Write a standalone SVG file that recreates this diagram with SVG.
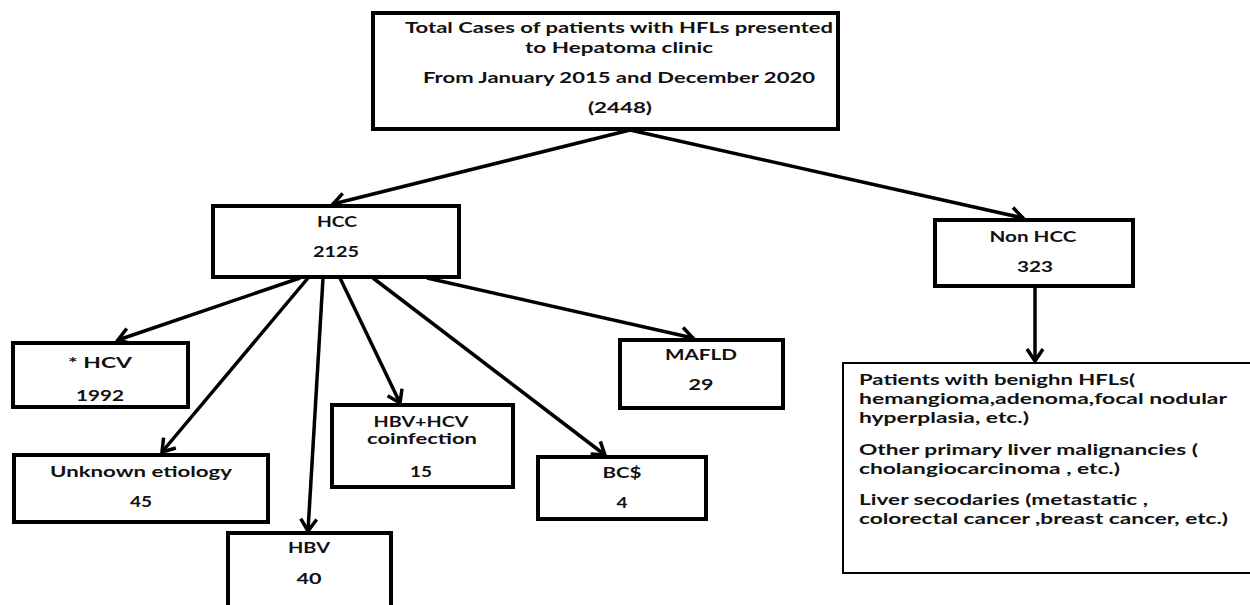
<svg xmlns="http://www.w3.org/2000/svg" width="1250" height="605" viewBox="0 0 1250 605">
<style>
.box{fill:#fff;stroke:#000;stroke-width:4}
.thin{fill:#fff;stroke:#000;stroke-width:2}
.t{font-family:Lato,"Open Sans","Liberation Sans",sans-serif;font-weight:700;font-size:14.5px;fill:#111;text-anchor:middle}
.l{font-family:Lato,"Open Sans","Liberation Sans",sans-serif;font-weight:700;font-size:14.5px;fill:#111;text-anchor:start}
.c{fill:none;stroke:#000;stroke-width:3.5;marker-end:url(#ah)}
</style>
<defs>
<marker id="ah" markerUnits="userSpaceOnUse" markerWidth="30" markerHeight="30" refX="0" refY="0" viewBox="-15 -15 30 30" orient="auto" overflow="visible">
<path d="M-12,-8 L0,0 L-12,8" fill="none" stroke="#000" stroke-width="3.5" stroke-linejoin="miter"/>
</marker>
</defs>
<rect width="1250" height="605" fill="#fff"/>
<g id="connectors">
<line class="c" x1="630" y1="130" x2="333" y2="204"/>
<line class="c" x1="630" y1="130" x2="1023" y2="218"/>
<line class="c" x1="300" y1="278" x2="118" y2="340"/>
<line class="c" x1="308" y1="278" x2="162" y2="452"/>
<line class="c" x1="323" y1="278" x2="308" y2="531"/>
<line class="c" x1="340" y1="278" x2="400" y2="403"/>
<line class="c" x1="373" y1="278" x2="605" y2="455"/>
<line class="c" x1="427" y1="278" x2="693" y2="338"/>
<line class="c" x1="1035" y1="287" x2="1035" y2="361"/>
</g>
<g id="total">
<rect class="box" x="373" y="13" width="465" height="116"/>
<text class="t" x="619" y="33" textLength="428" lengthAdjust="spacingAndGlyphs">Total Cases of patients with HFLs presented</text>
<text class="t" x="619" y="53" textLength="188" lengthAdjust="spacingAndGlyphs">to Hepatoma clinic</text>
<text class="t" x="619" y="83" textLength="392" lengthAdjust="spacingAndGlyphs">From January 2015 and December 2020</text>
<text class="t" x="620" y="113" textLength="64" lengthAdjust="spacingAndGlyphs">(2448)</text>
</g>
<g id="hcc">
<rect class="box" x="213" y="206" width="246" height="71"/>
<text class="t" x="337" y="227" textLength="40" lengthAdjust="spacingAndGlyphs">HCC</text>
<text class="t" x="336" y="257" textLength="46" lengthAdjust="spacingAndGlyphs">2125</text>
</g>
<g id="nonhcc">
<rect class="box" x="935" y="220" width="198" height="66"/>
<text class="t" x="1033" y="242" textLength="87" lengthAdjust="spacingAndGlyphs">Non HCC</text>
<text class="t" x="1035" y="272" textLength="36" lengthAdjust="spacingAndGlyphs">323</text>
</g>
<g id="hcv">
<rect class="box" x="13" y="343" width="175" height="64"/>
<text class="t" x="100" y="368" textLength="64" lengthAdjust="spacingAndGlyphs">* HCV</text>
<text class="t" x="100" y="401" textLength="48" lengthAdjust="spacingAndGlyphs">1992</text>
</g>
<g id="unknown">
<rect class="box" x="14" y="455" width="254" height="67"/>
<text class="t" x="141" y="477" textLength="182" lengthAdjust="spacingAndGlyphs">Unknown etiology</text>
<text class="t" x="141" y="507" textLength="22" lengthAdjust="spacingAndGlyphs">45</text>
</g>
<g id="hbv">
<rect class="box" x="228" y="533" width="163" height="80"/>
<text class="t" x="309" y="553" textLength="42" lengthAdjust="spacingAndGlyphs">HBV</text>
<text class="t" x="309" y="584" textLength="25" lengthAdjust="spacingAndGlyphs">40</text>
</g>
<g id="coinfection">
<rect class="box" x="332" y="405" width="181" height="82"/>
<text class="t" x="421" y="427" textLength="95" lengthAdjust="spacingAndGlyphs">HBV+HCV</text>
<text class="t" x="422" y="444" textLength="110" lengthAdjust="spacingAndGlyphs">coinfection</text>
<text class="t" x="421" y="477" textLength="22" lengthAdjust="spacingAndGlyphs">15</text>
</g>
<g id="bc">
<rect class="box" x="538" y="457" width="168" height="62"/>
<text class="t" x="622" y="478" textLength="39" lengthAdjust="spacingAndGlyphs">BC$</text>
<text class="t" x="622" y="508" textLength="11" lengthAdjust="spacingAndGlyphs">4</text>
</g>
<g id="mafld">
<rect class="box" x="620" y="340" width="163" height="68"/>
<text class="t" x="701" y="360" textLength="72" lengthAdjust="spacingAndGlyphs">MAFLD</text>
<text class="t" x="701" y="390" textLength="25" lengthAdjust="spacingAndGlyphs">29</text>
</g>
<g id="nonhcc-detail">
<rect class="thin" x="843" y="363" width="410" height="210"/>
<text class="l" x="859" y="385" textLength="276" lengthAdjust="spacingAndGlyphs">Patients with benighn HFLs(</text>
<text class="l" x="859" y="404" textLength="368" lengthAdjust="spacingAndGlyphs">hemangioma,adenoma,focal nodular</text>
<text class="l" x="859" y="423" textLength="170" lengthAdjust="spacingAndGlyphs">hyperplasia, etc.)</text>
<text class="l" x="859" y="455" textLength="339" lengthAdjust="spacingAndGlyphs">Other primary liver malignancies (</text>
<text class="l" x="859" y="474" textLength="261" lengthAdjust="spacingAndGlyphs">cholangiocarcinoma , etc.)</text>
<text class="l" x="859" y="505" textLength="289" lengthAdjust="spacingAndGlyphs">Liver secodaries (metastatic ,</text>
<text class="l" x="859" y="524" textLength="369" lengthAdjust="spacingAndGlyphs">colorectal cancer ,breast cancer, etc.)</text>
</g>
</svg>
